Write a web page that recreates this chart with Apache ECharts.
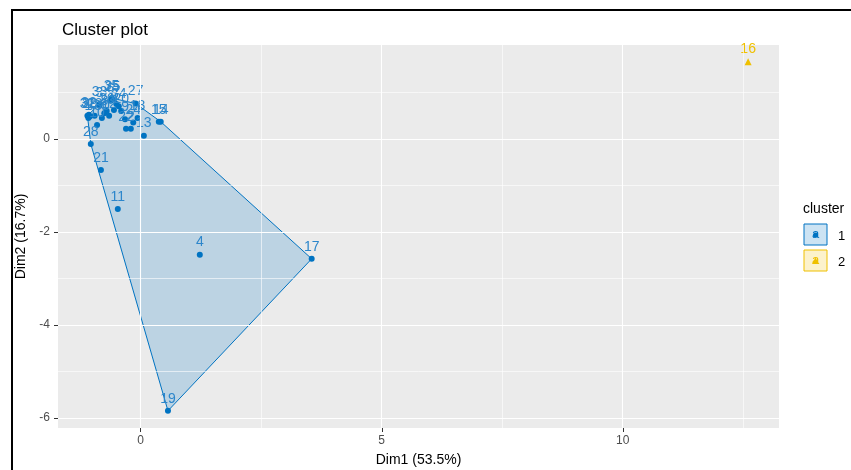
<!DOCTYPE html>
<html><head><meta charset="utf-8">
<script src="https://cdn.jsdelivr.net/npm/echarts@6/dist/echarts.min.js"></script>
<style>html,body{margin:0;padding:0;background:#fff;}#c{width:851px;height:470px;}</style>
</head><body><div id="c"></div>
<script>
// ---- data ----
const clusterNames = ['1', '2'];
const clusterColors = ['#0073C2', '#EFC000'];
const labels1 = ['1','2','3','4','5','6','7','8','9','10','11','12','13','14','15','17','18','19','20','21','22','23','24','25','26','27','28','29','30','31','32','33','34','35'];
const dim1_1 = [-1.08,-0.20,-0.85,1.23,-0.55,-0.62,-0.50,-0.75,-0.32,-0.90,-0.47,-0.65,0.07,0.42,0.38,3.55,-0.06,0.57,-0.40,-0.82,-0.30,-0.95,-0.15,-0.58,-0.70,-0.10,-1.03,-1.05,-0.80,-1.10,-1.07,-0.85,-0.45,-0.60];
const dim2_1 = [0.45,0.22,0.72,-2.49,0.62,0.82,0.75,0.55,0.42,0.30,-1.51,0.50,0.07,0.37,0.37,-2.58,0.45,-5.85,0.60,-0.67,0.22,0.50,0.35,0.85,0.60,0.76,-0.11,0.48,0.45,0.50,0.52,0.75,0.70,0.88];
const labels2 = ['16'];
const dim1_2 = [12.6];
const dim2_2 = [1.66];
const xTicks = [0, 5, 10];
const yTicks = [-6, -4, -2, 0];
const xMinor = [2.5, 7.5, 12.5];
const yMinor = [-5, -3, -1, 1];
const xRange = [-1.71, 13.24];
const yRange = [-6.22, 2.02];

// ---- helpers ----
function hull(pts) {
  const p = pts.slice().sort((a, b) => a[0] - b[0] || a[1] - b[1]);
  if (p.length < 3) return p;
  const cross = (o, a, b) => (a[0]-o[0])*(b[1]-o[1]) - (a[1]-o[1])*(b[0]-o[0]);
  const lower = [], upper = [];
  for (const q of p) { while (lower.length >= 2 && cross(lower[lower.length-2], lower[lower.length-1], q) <= 0) lower.pop(); lower.push(q); }
  for (let i = p.length - 1; i >= 0; i--) { const q = p[i]; while (upper.length >= 2 && cross(upper[upper.length-2], upper[upper.length-1], q) <= 0) upper.pop(); upper.push(q); }
  upper.pop(); lower.pop();
  return lower.concat(upper);
}
const pts1 = dim1_1.map((x, i) => [x, dim2_1[i], labels1[i]]);
const pts2 = dim1_2.map((x, i) => [x, dim2_2[i], labels2[i]]);
const hull1 = hull(pts1.map(p => [p[0], p[1]]));

const FONT = 'Liberation Sans, Arial, sans-serif';
const chart = echarts.init(document.getElementById('c'), null, {renderer: 'canvas'});
const gridLines = [];
xTicks.forEach(v => gridLines.push({xAxis: v, lineStyle: {width: 1.1}}));
yTicks.forEach(v => gridLines.push({yAxis: v, lineStyle: {width: 1.1}}));
xMinor.forEach(v => gridLines.push({xAxis: v, lineStyle: {width: 0.6}}));
yMinor.forEach(v => gridLines.push({yAxis: v, lineStyle: {width: 0.6}}));

const staticGraphic = [
  {id: 'frame', type: 'rect', shape: {x: 12, y: 10, width: 900, height: 500}, style: {fill: 'none', stroke: '#000', lineWidth: 2}, z: 100},
  {id: 'lt', type: 'text', left: 803, top: 202, style: {text: 'cluster', fontSize: 14, fill: '#000', fontFamily: FONT}},
  {id: 'k1', type: 'rect', shape: {x: 804, y: 224, width: 23, height: 21}, style: {fill: 'rgba(0,115,194,0.2)', stroke: clusterColors[0], lineWidth: 1}},
  {id: 'k1s', type: 'circle', shape: {cx: 815.5, cy: 235, r: 2.5}, style: {fill: clusterColors[0]}},
  {id: 'k1a', type: 'text', x: 815.5, y: 234, style: {text: 'a', fontSize: 13, fill: clusterColors[0], align: 'center', verticalAlign: 'middle', fontFamily: FONT}},
  {id: 'k1t', type: 'text', x: 838, y: 236, style: {text: clusterNames[0], fontSize: 13, fill: '#000', verticalAlign: 'middle', fontFamily: FONT}},
  {id: 'k2', type: 'rect', shape: {x: 804, y: 250, width: 23, height: 21}, style: {fill: 'rgba(239,192,0,0.2)', stroke: clusterColors[1], lineWidth: 1}},
  {id: 'k2s', type: 'polygon', shape: {points: [[815.5, 257.5], [819, 264], [812, 264]]}, style: {fill: clusterColors[1]}},
  {id: 'k2a', type: 'text', x: 815.5, y: 260, style: {text: 'a', fontSize: 13, fill: clusterColors[1], align: 'center', verticalAlign: 'middle', fontFamily: FONT}},
  {id: 'k2t', type: 'text', x: 838, y: 262, style: {text: clusterNames[1], fontSize: 13, fill: '#000', verticalAlign: 'middle', fontFamily: FONT}}
];

chart.setOption({
  animation: false,
  backgroundColor: '#fff',
  textStyle: {fontFamily: FONT},
  title: {text: 'Cluster plot', left: 57, top: 17, textStyle: {fontSize: 17, fontWeight: 'normal', color: '#000', fontFamily: FONT}},
  grid: {left: 58, right: 72, top: 45, bottom: 42, show: true, backgroundColor: '#EBEBEB', borderWidth: 0, containLabel: false, outerBoundsMode: 'none'},
  xAxis: {
    type: 'value', min: xRange[0], max: xRange[1],
    name: 'Dim1 (53.5%)', nameLocation: 'middle', nameGap: 25,
    nameTextStyle: {fontSize: 14, color: '#000', fontFamily: FONT},
    axisLine: {show: false},
    axisTick: {show: false},
    axisLabel: {customValues: xTicks, color: '#4D4D4D', fontSize: 12, margin: 7, fontFamily: FONT},
    splitLine: {show: false}
  },
  yAxis: {
    type: 'value', min: yRange[0], max: yRange[1],
    name: 'Dim2 (16.7%)', nameLocation: 'middle', nameGap: 23,
    nameTextStyle: {fontSize: 14, color: '#000', fontFamily: FONT},
    axisLine: {show: false},
    axisTick: {show: false},
    axisLabel: {customValues: yTicks, color: '#4D4D4D', fontSize: 12, margin: 8, fontFamily: FONT},
    splitLine: {show: false}
  },
  series: [
    {type: 'scatter', data: [], z: 1, silent: true,
     markLine: {silent: true, symbol: 'none', label: {show: false}, lineStyle: {color: '#fff', type: 'solid'}, data: gridLines, animation: false}},
    {type: 'custom', z: 2, silent: true, data: [0],
     renderItem: function (params, api) {
       const poly = hull1.map(p => api.coord(p));
       return {type: 'polygon', shape: {points: poly},
               style: {fill: 'rgba(0,115,194,0.2)', stroke: clusterColors[0], lineWidth: 1}};
     }},
    {type: 'scatter', name: clusterNames[0], z: 3, data: pts1, symbol: 'circle', symbolSize: 6,
     itemStyle: {color: clusterColors[0], opacity: 1},
     label: {show: true, position: 'top', distance: 2, formatter: p => p.value[2], color: '#2C86CB', fontSize: 14, fontFamily: FONT}},
    {type: 'scatter', name: clusterNames[1], z: 3, data: pts2, symbol: 'triangle', symbolSize: 7,
     itemStyle: {color: clusterColors[1], opacity: 1},
     label: {show: true, position: 'top', distance: 2, formatter: p => p.value[2], color: '#EFC000', fontSize: 14, fontFamily: FONT}}
  ],
  graphic: staticGraphic
});

// axis ticks (outward, like ggplot), placed through the axis scales
const tickGraphic = [];
const corner = chart.convertToPixel({gridIndex: 0}, [xRange[0], yRange[0]]);
const yBottom = corner[1];
const xLeft = corner[0];
xTicks.forEach((v, i) => {
  const px = Math.round(chart.convertToPixel({gridIndex: 0}, [v, yRange[0]])[0]) + 0.5;
  tickGraphic.push({id: 'xt' + i, type: 'line', z: 50, shape: {x1: px, y1: yBottom, x2: px, y2: yBottom + 4}, style: {stroke: '#333', lineWidth: 1}});
});
yTicks.forEach((v, i) => {
  const py = Math.round(chart.convertToPixel({gridIndex: 0}, [xRange[0], v])[1]) + 0.5;
  tickGraphic.push({id: 'yt' + i, type: 'line', z: 50, shape: {x1: xLeft - 4, y1: py, x2: xLeft, y2: py}, style: {stroke: '#333', lineWidth: 1}});
});
chart.setOption({graphic: staticGraphic.concat(tickGraphic)});
</script></body></html>
